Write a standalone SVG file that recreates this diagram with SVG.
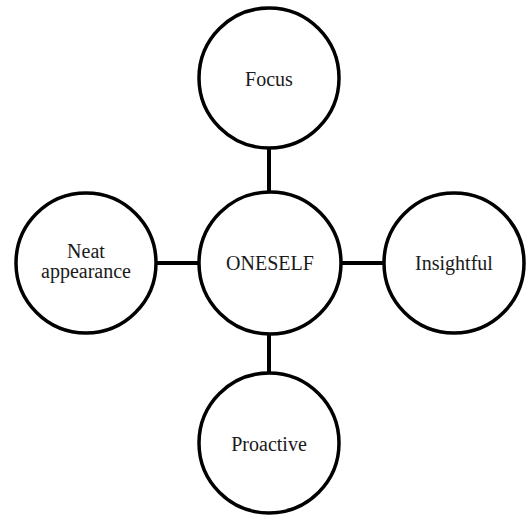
<svg xmlns="http://www.w3.org/2000/svg" width="527" height="516" viewBox="0 0 527 516">
  <style>
    .node circle { fill: #ffffff; stroke: #000000; stroke-width: 3.5; }
    .node text { font-family: 'Liberation Serif', 'DejaVu Serif', serif; font-size: 20px; fill: #1a1a1a; text-anchor: middle; }
    .links line { stroke: #000000; stroke-width: 4; }
  </style>
  <rect width="527" height="516" fill="#ffffff"/>

  <!-- connectors from the hub to each outer circle -->
  <g id="connectors" class="links">
    <line x1="269" y1="148" x2="269" y2="193"/>
    <line x1="269" y1="333" x2="269" y2="373"/>
    <line x1="156" y1="263" x2="200" y2="263"/>
    <line x1="340" y1="263" x2="384" y2="263"/>
  </g>

  <g id="oneself" class="node">
    <circle cx="270" cy="263" r="71"/>
    <text x="270" y="270" font-family="Liberation Serif, serif">ONESELF</text>
  </g>

  <g id="focus" class="node">
    <circle cx="269" cy="78" r="70"/>
    <text x="269" y="86" font-family="Liberation Serif, serif">Focus</text>
  </g>

  <g id="neat-appearance" class="node">
    <circle cx="86" cy="263" r="70"/>
    <text x="86" y="258" font-family="Liberation Serif, serif">Neat</text>
    <text x="86" y="278" font-family="Liberation Serif, serif">appearance</text>
  </g>

  <g id="insightful" class="node">
    <circle cx="454" cy="263" r="70"/>
    <text x="454" y="270" font-family="Liberation Serif, serif">Insightful</text>
  </g>

  <g id="proactive" class="node">
    <circle cx="269" cy="443" r="70"/>
    <text x="269" y="451" font-family="Liberation Serif, serif">Proactive</text>
  </g>
</svg>
